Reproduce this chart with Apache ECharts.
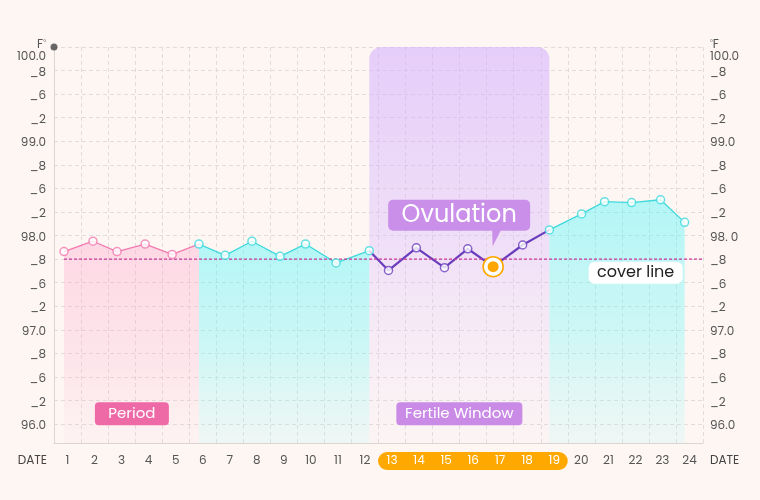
<!DOCTYPE html>
<html><head><meta charset="utf-8">
<script src="https://cdn.jsdelivr.net/npm/echarts@6/dist/echarts.min.js"></script>
<style>html,body{margin:0;padding:0;background:#fdf6f3}#c{width:760px;height:500px}</style>
</head><body><div id="c"></div>
<script>
// ---- data ----
const days = ['1','2','3','4','5','6','7','8','9','10','11','12','13','14','15','16','17','18','19','20','21','22','23','24'];
// horizontal position of each reading on the day scale (0 = left edge, 24 = right edge)
const dayPos = [0.37,1.44,2.33,3.37,4.37,5.36,6.33,7.32,8.36,9.30,10.43,11.66,12.37,13.40,14.44,15.30,16.24,17.33,18.32,19.51,20.36,21.36,22.43,23.32];
const temps = [97.83,97.94,97.83,97.91,97.80,97.91,97.79,97.94,97.78,97.91,97.71,97.84,97.63,97.87,97.66,97.86,97.67,97.90,98.06,98.23,98.36,98.35,98.38,98.14];
const coverTemp = 97.75;
const periodEnd = 6, fertileStart = 12, fertileEnd = 19, ovulationDay = 17;
const yTicks = [96,96.25,96.5,96.75,97,97.25,97.5,97.75,98,98.25,98.5,98.75,99,99.25,99.5,99.75,100];
const yLabelsLeft  = ['96.0','_2','_6','_8','97.0','_2','_6','_8','98.0','_2','_6','_8','99.0','_2','_6','_8','100.0'];
const yLabelsRight = ['96.0','_2','_6','_8','97.0','_2','_6','_8','98. 0','_2','_6','_8','99.0','_2','_6','_8','100.0'];
const tagTexts = ['Period','Fertile Window','cover line','Ovulation'];

// ---- chart ----
const FONT = 'Poppins, "Open Sans", sans-serif';
const PINK = '#f27aaf', CYAN = '#3fd9dc', PURPLE = '#6a3dbd';
const pts = dayPos.map((x, i) => [x, temps[i]]);
const seg = (a, b) => pts.slice(a - 1, b);
const grad = (stops) => ({type:'linear', x:0, y:0, x2:0, y2:1, colorStops: stops.map(s => ({offset:s[0], color:s[1]}))});

function ptColor(d) {
  if (d < periodEnd) return PINK;
  if (d <= fertileStart) return CYAN;
  if (d < fertileEnd) return PURPLE;
  return CYAN;
}
const pointData = [];
pts.forEach((p, i) => {
  const d = i + 1;
  if (d === ovulationDay) return;
  pointData.push({value: p, itemStyle: {borderColor: ptColor(d)}});
});

const chart = echarts.init(document.getElementById('c'), null, {renderer:'canvas'});
const yLabelFmt = (labels) => (v) => {
  const i = Math.round((v - 96) / 0.25);
  const t = labels[i] || '';
  return v >= 100 ? '{top|' + t + '}' : '{n|' + t + '}';
};
const yRich = {
  top: {padding:[20,0,0,0], color:'#555', fontSize:12},
  n: {padding:[4,0,0,0], color:'#555', fontSize:12}
};
const gridLine = {type:[4,3], color:'#e3dcd9', width:1};
const cyanArea = grad([[0,'rgba(70,246,250,0.58)'],[0.55,'rgba(110,248,250,0.48)'],[1,'rgba(170,250,250,0.25)']]);
const pill = {backgroundColor:'#ffa800', color:'#fff', width:28, height:18, lineHeight:18, align:'center', fontSize:12};

const tags = [
  {x:2.88, y:96.11, t:0, bg:'#ee6aa7', fg:'#fff', w:74, h:23, fs:15, r:4},
  {x:14.99, y:96.11, t:1, bg:'#c98be6', fg:'#fff', w:126, h:23, fs:15, r:4},
  {x:21.51, y:97.605, t:2, bg:'#ffffff', fg:'#222', w:94, h:22, fs:16, r:6}
];
const dateName = {color:'#444', fontSize: 12, fontWeight: 'normal', verticalAlign:'top', padding: [12,0,0,0]};

chart.setOption({
  backgroundColor: '#fdf6f3',
  textStyle: {fontFamily: FONT},
  animation: false,
  grid: {left: 54, right: 57, top: 47, bottom: 57},
  xAxis: [{
    type: 'category', data: days, boundaryGap: true, position: 'bottom',
    axisLine: {lineStyle: {color: '#dcd6d3'}},
    axisTick: {show: false},
    axisLabel: {
      color: '#555', fontSize: 12, margin: 9, interval: 0,
      formatter: (v) => {
        const d = +v;
        if (d === fertileStart + 1) return '{hl|' + v + '}';
        if (d === fertileEnd) return '{hr|' + v + '}';
        if (d > fertileStart && d < fertileEnd) return '{h|' + v + '}';
        return '{p|' + v + '}';
      },
      rich: {
        p:  {color:'#555', height:18, lineHeight:18, fontSize:12},
        h:  pill,
        hl: Object.assign({}, pill, {borderRadius:[9,0,0,9]}),
        hr: Object.assign({}, pill, {width:27, borderRadius:[0,9,9,0]})
      }
    },
    splitLine: {show: true, lineStyle: gridLine},
    name: 'DATE', nameLocation: 'end', nameGap: 7,
    nameTextStyle: dateName
  }, {
    type: 'value', min: 0, max: 24, position: 'bottom', show: true,
    axisLine: {show: false}, axisTick: {show: false}, axisLabel: {show: false}, splitLine: {show: false},
    name: 'DATE', nameLocation: 'start', nameGap: 7,
    nameTextStyle: dateName
  }],
  yAxis: [{
    type: 'value', min: 95.8, max: 100, position: 'left',
    axisLine: {show: true, lineStyle: {color: '#dcd6d3'}},
    axisTick: {show: false, customValues: yTicks},
    axisLabel: {customValues: yTicks, formatter: yLabelFmt(yLabelsLeft), color:'#555', fontSize: 12, margin: 8, rich: yRich},
    splitLine: {show: true, lineStyle: gridLine},
    name: 'F{d|°}', nameLocation: 'end', nameGap: 0,
    nameTextStyle: {color:'#555', fontSize: 12, align:'right', verticalAlign:'middle', padding:[0,8,0,0],
      rich: {d: {fontSize: 7, color:'#777', verticalAlign:'top', padding:[0,0,6,0]}}}
  }, {
    type: 'value', min: 95.8, max: 100, position: 'right',
    axisLine: {show: false},
    axisTick: {show: false, customValues: yTicks},
    axisLabel: {customValues: yTicks, formatter: yLabelFmt(yLabelsRight), color:'#555', fontSize: 12, margin: 7, rich: yRich},
    splitLine: {show: false},
    name: '{d|°}F', nameLocation: 'end', nameGap: 0,
    nameTextStyle: {color:'#555', fontSize: 12, align:'left', verticalAlign:'middle', padding:[0,0,0,7],
      rich: {d: {fontSize: 7, color:'#777', verticalAlign:'top', padding:[0,0,6,0]}}}
  }],
  series: [
    { // fertile window band
      type: 'custom', xAxisIndex: 1, yAxisIndex: 0, z: 1, silent: true,
      encode: {x: [0, 2], y: 1},
      data: [[dayPos[fertileStart - 1], 100, dayPos[fertileEnd - 1]]],
      renderItem: (params, api) => {
        const p1 = api.coord([api.value(0), 100]);
        const p2 = api.coord([api.value(2), 95.8]);
        return {type:'rect', shape:{x:p1[0], y:p1[1], width:p2[0]-p1[0], height:p2[1]-p1[1], r:[12,12,0,0]},
          style:{fill: grad([[0,'rgba(210,172,255,0.55)'],[0.5,'rgba(215,180,255,0.35)'],[1,'rgba(235,215,255,0.08)']])}};
      }
    },
    {type:'line', xAxisIndex:1, yAxisIndex:0, data: seg(1, periodEnd), symbol:'none', z:2,
      lineStyle:{color:PINK, width:1.3},
      areaStyle:{origin:'start', color: grad([[0,'rgba(255,150,195,0.45)'],[0.6,'rgba(255,170,205,0.32)'],[1,'rgba(255,200,225,0.12)']])}},
    {type:'line', xAxisIndex:1, yAxisIndex:0, data: seg(periodEnd, fertileStart), symbol:'none', z:2,
      lineStyle:{color:CYAN, width:1.3},
      areaStyle:{origin:'start', color: cyanArea}},
    {type:'line', xAxisIndex:1, yAxisIndex:0, data: seg(fertileStart, fertileEnd), symbol:'none', z:3,
      lineStyle:{color:PURPLE, width:2.2}},
    {type:'line', xAxisIndex:1, yAxisIndex:0, data: seg(fertileEnd, days.length), symbol:'none', z:2,
      lineStyle:{color:CYAN, width:1.3},
      areaStyle:{origin:'start', color: cyanArea}},
    {type:'line', xAxisIndex:1, yAxisIndex:0, data: [[dayPos[0], coverTemp],[24, coverTemp]], symbol:'none', z:4,
      lineStyle:{color:'#c8379a', width:1.2, type:[3,2]}},
    {type:'scatter', xAxisIndex:1, yAxisIndex:0, data: pointData, symbol:'circle', symbolSize:8, z:5,
      itemStyle:{color:'#fff', borderWidth:1.5}},
    { // ovulation marker + callout
      type:'custom', xAxisIndex:1, yAxisIndex:0, z:6, silent:true,
      data: [[dayPos[ovulationDay - 1], temps[ovulationDay - 1]]],
      renderItem: (params, api) => {
        const p = api.coord([api.value(0), api.value(1)]);
        const bx = p[0] - 105, by = p[1] - 67, bw = 142, bh = 31;
        return {type:'group', children:[
          {type:'rect', shape:{x:bx, y:by, width:bw, height:bh, r:5}, style:{fill:'#c98fe9'}},
          {type:'polygon', shape:{points:[[p[0]-1, by+bh-1],[p[0]+8, by+bh-1],[p[0]-0.5, p[1]-20.5]]}, style:{fill:'#c98fe9'}},
          {type:'text', style:{x:bx+bw/2, y:by+bh/2+1, text:tagTexts[3], fill:'#fff', fontSize:24, fontFamily:FONT, align:'center', verticalAlign:'middle'}},
          {type:'circle', shape:{cx:p[0], cy:p[1], r:10}, style:{fill:'#fff', stroke:'#ffa800', lineWidth:1.6}},
          {type:'circle', shape:{cx:p[0], cy:p[1], r:5.5}, style:{fill:'#ffa500'}}
        ]};
      }
    },
    { // labels
      type:'custom', xAxisIndex:1, yAxisIndex:0, z:7, silent:true,
      data: tags.map(t => [t.x, t.y]),
      renderItem: (params, api) => {
        const t = tags[params.dataIndex];
        const p = api.coord([api.value(0), api.value(1)]);
        return {type:'group', children:[
          {type:'rect', shape:{x:p[0]-t.w/2, y:p[1]-t.h/2, width:t.w, height:t.h, r:t.r}, style:{fill:t.bg}},
          {type:'text', style:{x:p[0], y:p[1]+0.5, text:tagTexts[t.t], fill:t.fg, fontSize:t.fs, fontFamily:FONT, align:'center', verticalAlign:'middle'}}
        ]};
      }
    },
    {type:'scatter', xAxisIndex:1, yAxisIndex:0, data:[[0,100]], symbol:'circle', symbolSize:7, z:8, silent:true,
      itemStyle:{color:'#444'}}
  ]
});
</script></body></html>
